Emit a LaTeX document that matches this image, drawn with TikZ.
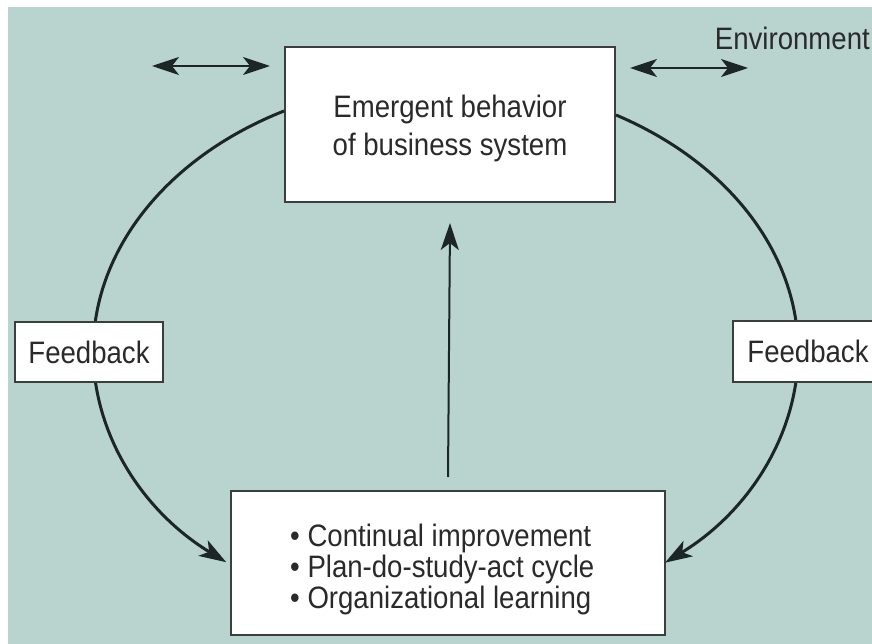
\documentclass[tikz,border=0pt]{standalone}
\usepackage{fontspec}
\setmainfont{Liberation Sans}[FakeStretch=0.89]
\usetikzlibrary{arrows.meta}
\definecolor{bgteal}{RGB}{185,212,207}
\definecolor{linec}{RGB}{28,38,36}
\definecolor{boxc}{RGB}{58,62,60}
\definecolor{txtc}{RGB}{42,42,42}
\tikzset{
  box/.style={draw=boxc, line width=2pt, fill=white, inner sep=0pt, rectangle},
  txt/.style={text=txtc, inner sep=0pt, font=\fontsize{31}{38}\selectfont},
  tip/.style={-{Stealth[length=27pt,width=18pt,inset=7pt]}},
  dtip/.style={{Stealth[length=27pt,width=18pt,inset=7pt]}-{Stealth[length=27pt,width=18pt,inset=7pt]}},
  curve/.style={draw=linec, line width=3pt},
  thin/.style={draw=linec, line width=2pt}
}
\begin{document}
\begin{tikzpicture}[x=1pt,y=-1pt]
\useasboundingbox (0,0) rectangle (872,644);
\fill[white] (0,0) rectangle (872,644);
\fill[bgteal] (8,7) rectangle (872,644);

% main boxes
\node[box, minimum width=330pt, minimum height=155pt] (top) at (450,124.5) {};
\node[box, minimum width=434pt, minimum height=144pt] (bot) at (448,563) {};

% feedback loops (elliptical arcs)
\draw[curve, tip] ([yshift=13.5pt]top.west) arc[start angle=117.3, end angle=231.5, x radius=352.5pt, y radius=270pt];
\draw[curve, tip] ([yshift=9.5pt]top.east) arc[start angle=61.1, end angle=-51.5, x radius=352.5pt, y radius=270pt];

% feedback boxes
\node[box, minimum width=148pt, minimum height=60pt] (fbl) at (89,352) {};
\node[box, minimum width=148pt, minimum height=61pt] (fbr) at (807,351.5) {};
\node[txt] (fbltxt) at (fbl.center) {Feedback};
\node[txt] (fbrtxt) at ([xshift=1pt]fbr.center) {Feedback};

% vertical arrow
\draw[thin, tip] ([yshift=13pt]bot.north) -- ([yshift=-20pt]top.south);

% environment arrows
\coordinate (el1) at (152,66);
\coordinate (el2) at (270,66);
\coordinate (er1) at (630,68);
\coordinate (er2) at (748,68);
\draw[thin, dtip] (el1) -- (el2);
\draw[thin, dtip] (er1) -- (er2);
\node[txt, anchor=base east] (env) at (870,50) {Environment};

% box texts
\node[txt, anchor=north, align=center] (toptxt) at (450,95) {Emergent behavior\\of business system};
\node[txt, anchor=north west, align=left, font=\fontsize{31}{31}\selectfont] (bottxt) at (290,524)
  {• Continual improvement\\• Plan-do-study-act cycle\\• Organizational learning};
\end{tikzpicture}
\end{document}
